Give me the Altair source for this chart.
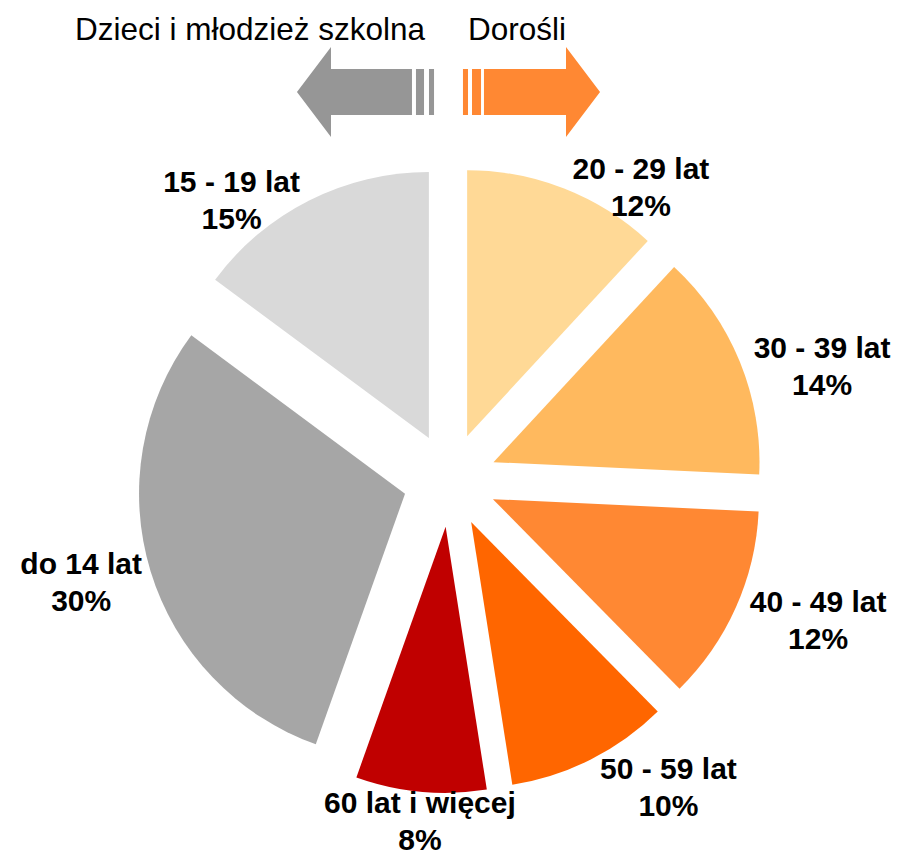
import altair as alt
import pandas as pd

# ---- data ----
names = ["20 - 29 lat", "30 - 39 lat", "40 - 49 lat", "50 - 59 lat",
         "60 lat i więcej", "do 14 lat", "15 - 19 lat"]
values = [12, 14, 12, 10, 8, 30, 15]
colors = ["#FFD996", "#FFB95E", "#FF8833", "#FF6600", "#C00000", "#A6A6A6", "#D9D9D9"]
group_titles = ["Dzieci i młodzież szkolna", "Dorośli"]

df = pd.DataFrame({
    "name": names,
    "value": values,
    "order": list(range(len(names))),
    "pct": [f"{v}%" for v in values],
})

# ---- layout constants ----
W, H = 891, 842
CX, CY = 442, 472          # pie centre (plot px)
R = 266                    # slice radius
EXPLODE = 47               # radial offset of every slice
LABEL_R = EXPLODE + R + 10 # anchor radius for labels
CHAR_W = 13.3              # approx. label char width for placement
FONT = "Liberation Sans"

base = (
    alt.Chart(df)
    .transform_window(cum="sum(value)", sort=[alt.SortField(field="order", order="ascending")],
                      frame=[None, 0])
    .transform_joinaggregate(total="sum(value)")
    .transform_calculate(t0="2*PI*(datum.cum - datum.value)/datum.total")
    .transform_calculate(t1="2*PI*datum.cum/datum.total")
    .transform_calculate(m="(datum.t0 + datum.t1)/2")
    .transform_calculate(ax=f"{CX} + {EXPLODE}*sin(datum.m)")
    .transform_calculate(ay=f"{CY} - {EXPLODE}*cos(datum.m)")
    .transform_calculate(px=f"{CX} + {LABEL_R}*sin(datum.m)")
    .transform_calculate(py=f"{CY} - {LABEL_R}*cos(datum.m)")
    .transform_calculate(w=f"length(datum.name)*{CHAR_W}")
    .transform_calculate(
        lx="datum.px + (sin(datum.m) > 0.2 ? datum.w/2 : (sin(datum.m) < -0.2 ? -datum.w/2 : 0))")
    .transform_calculate(ly="datum.py + (cos(datum.m) < -0.8 ? 19 : 8)")
    .transform_calculate(ly1="datum.ly - 8")
    .transform_calculate(ly2="datum.ly + 29")
)

arcs = base.mark_arc(outerRadius=R, strokeWidth=0).encode(
    theta=alt.Theta("t0:Q", scale=None),
    theta2="t1:Q",
    x=alt.X("ax:Q", scale=None, axis=None),
    y=alt.Y("ay:Q", scale=None, axis=None),
    color=alt.Color("name:N", scale=alt.Scale(domain=names, range=colors), legend=None),
)

label_style = dict(fontSize=30, fontWeight="bold", font=FONT, baseline="alphabetic",
                   align="center", color="black")
lab1 = base.mark_text(**label_style).encode(
    x=alt.X("lx:Q", scale=None, axis=None),
    y=alt.Y("ly1:Q", scale=None, axis=None),
    text="name:N",
)
lab2 = base.mark_text(**label_style).encode(
    x=alt.X("lx:Q", scale=None, axis=None),
    y=alt.Y("ly2:Q", scale=None, axis=None),
    text="pct:N",
)

# ---- decorative arrows ----
left_arrow = ("M-0.979,0 L-0.493,-0.643 L-0.493,-0.33 L0.664,-0.33 L0.664,0.33 "
              "L-0.493,0.33 L-0.493,0.643 Z "
              "M0.721,-0.33 L0.836,-0.33 L0.836,0.33 L0.721,0.33 Z "
              "M0.907,-0.33 L0.979,-0.33 L0.979,0.33 L0.907,0.33 Z")
right_arrow = ("M0.979,0 L0.493,-0.643 L0.493,-0.33 L-0.679,-0.33 L-0.679,0.33 "
               "L0.493,0.33 L0.493,0.643 Z "
               "M-0.85,-0.33 L-0.721,-0.33 L-0.721,0.33 L-0.85,0.33 Z "
               "M-0.979,-0.33 L-0.907,-0.33 L-0.907,0.33 L-0.979,0.33 Z")

one = pd.DataFrame({"k": [1]})
arrow_l = alt.Chart(one).mark_point(shape=left_arrow, size=19600, filled=True,
                                    fill="#969696", opacity=1, strokeWidth=0).encode(
    x=alt.value(357.5), y=alt.value(84))
arrow_r = alt.Chart(one).mark_point(shape=right_arrow, size=19600, filled=True,
                                    fill="#FF8833", opacity=1, strokeWidth=0).encode(
    x=alt.value(523.5), y=alt.value(84))

title_style = dict(fontSize=31.5, font=FONT, baseline="alphabetic", align="center", color="black")
title_l = alt.Chart(pd.DataFrame({"t": [group_titles[0]]})).mark_text(**title_style).encode(
    x=alt.value(242), y=alt.value(32), text="t:N")
title_r = alt.Chart(pd.DataFrame({"t": [group_titles[1]]})).mark_text(**title_style).encode(
    x=alt.value(509), y=alt.value(32), text="t:N")

chart = (
    alt.layer(arcs, lab1, lab2, arrow_l, arrow_r, title_l, title_r)
    .properties(width=W, height=H, padding=0, autosize="none")
    .configure_view(stroke=None)
)

chart.save("out.html", embed_options={"renderer": "svg", "actions": False})
